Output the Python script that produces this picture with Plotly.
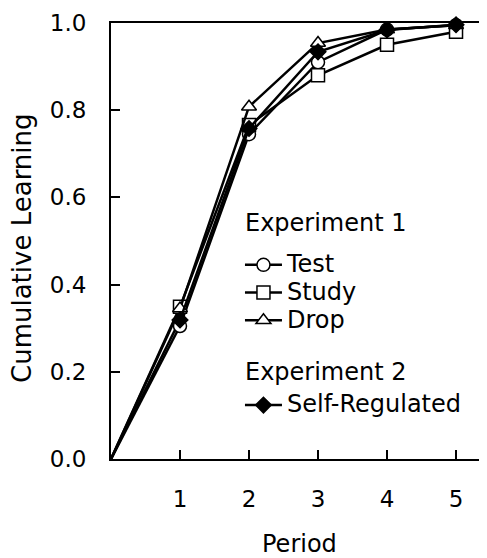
import plotly.graph_objects as go

periods = [0, 1, 2, 3, 4, 5]
test = [0, 0.305, 0.745, 0.91, 0.985, 0.995]
study = [0, 0.349, 0.766, 0.88, 0.95, 0.98]
drop = [0, 0.345, 0.808, 0.954, 0.985, 0.995]
self_regulated = [0, 0.319, 0.758, 0.934, 0.984, 0.996]

FONT = "DejaVu Sans, Liberation Sans, Arial, sans-serif"


def big(s):
    # legend rows are packed tighter than plotly's default line height,
    # so the legend font is small and the label itself is enlarged
    return '<span style="font-size:24px">' + s + '</span>'


# (name, values, symbol, fill, group, group title text, group title font size)
# the title font sizes only set the spacing above each group's items
series = [
    ("Test", test, "circle", "white", "exp1", big("Experiment 1") + "<br> ", 12),
    ("Study", study, "square", "white", "exp1", big("Experiment 1") + "<br> ", 12),
    ("Drop", drop, "triangle-up", "white", "exp1", big("Experiment 1") + "<br> ", 12),
    ("Self-Regulated", self_regulated, "diamond", "black", "exp2", big("Experiment 2"), 37),
]

fig = go.Figure()
for name, vals, sym, fill, grp, grp_title, gsize in series:
    # origin segment has no marker in the original
    fig.add_trace(go.Scatter(
        x=periods[:2], y=vals[:2], mode="lines", showlegend=False,
        line=dict(color="black", width=2.5), hoverinfo="skip",
    ))
for name, vals, sym, fill, grp, grp_title, gsize in series:
    fig.add_trace(go.Scatter(
        x=periods[1:], y=vals[1:], name=big(name), mode="lines+markers",
        line=dict(color="black", width=2.5),
        marker=dict(symbol=sym, size=13 if sym != "diamond" else 12, color=fill,
                    line=dict(color="black", width=1.5)),
        legendgroup=grp,
        legendgrouptitle=dict(text=grp_title,
                              font=dict(size=gsize, color="black", family=FONT)),
        cliponaxis=False,
    ))

# page body has an 8px margin, so the figure is sized to end at the window edge
fig.update_layout(
    width=479, height=550,
    margin=dict(l=103, r=0, t=15, b=99),
    plot_bgcolor="white", paper_bgcolor="white",
    font=dict(family=FONT, size=23, color="black"),
    showlegend=True,
    legend=dict(
        x=0.343, y=0.567, xanchor="left", yanchor="top",
        bgcolor="rgba(0,0,0,0)", tracegroupgap=6, itemwidth=37,
        font=dict(size=19), traceorder="grouped",
    ),
    xaxis=dict(
        range=[0, 5.449], tickvals=[1, 2, 3, 4, 5],
        showline=True, linecolor="black", linewidth=2, mirror=True,
        ticks="inside", ticklen=9, tickwidth=2, tickcolor="black",
        showgrid=False, zeroline=False, ticklabelstandoff=18, automargin=False,
    ),
    yaxis=dict(
        range=[0, 1], tickvals=[0, 0.2, 0.4, 0.6, 0.8, 1.0], tickformat=".1f",
        showline=True, linecolor="black", linewidth=2,
        ticks="inside", ticklen=9, tickwidth=2, tickcolor="black",
        showgrid=False, zeroline=False, ticklabelstandoff=18, automargin=False,
    ),
    annotations=[
        dict(text="Cumulative Learning", textangle=-90, xref="paper", yref="paper",
             x=0, y=0.484, xanchor="center", yanchor="middle", xshift=-89,
             showarrow=False, font=dict(size=26)),
        dict(text="Period", xref="paper", yref="paper", x=0.5, y=0,
             xanchor="center", yanchor="middle", yshift=-85,
             showarrow=False, font=dict(size=24)),
    ],
)

fig.write_html("out.html")
